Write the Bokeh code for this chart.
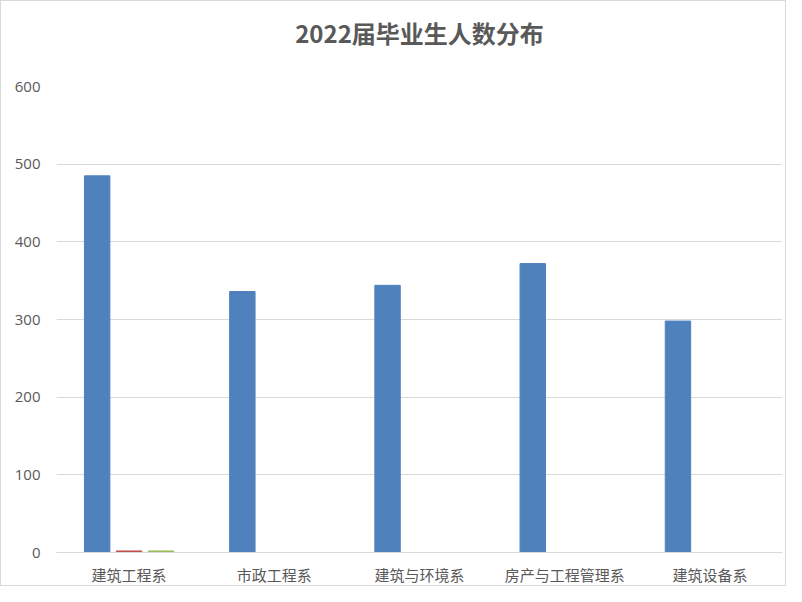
from bokeh.plotting import figure
from bokeh.models import ColumnDataSource, FactorRange, SingleIntervalTicker, Range1d, Title
from bokeh.transform import dodge
from bokeh.embed import file_html
from bokeh.resources import INLINE

categories = ["建筑工程系", "市政工程系", "建筑与环境系", "房产与工程管理系", "建筑设备系"]
series1 = [485, 336, 344, 372, 298]
series2 = [2, 0, 0, 0, 0]
series3 = [2, 0, 0, 0, 0]
y_ticks = [0, 100, 200, 300, 400, 500, 600]
title_text = "2022届毕业生人数分布"

src = ColumnDataSource(dict(cat=categories, s1=series1, s2=series2, s3=series3))

p = figure(width=786, height=586, x_range=FactorRange(factors=categories, range_padding=0),
           y_range=Range1d(0, 600), output_backend="svg", toolbar_location=None,
           min_border_left=55, min_border_right=5,
           min_border_bottom=28, min_border_top=5)

spacer = Title(text=" ", text_font_size="24px", standoff=8)
p.add_layout(spacer, "above")
main_title = Title(text=title_text, align="center", text_font="Noto Sans CJK SC",
                   text_font_size="24px", text_font_style="bold", text_color="#595959",
                   standoff=0)
p.add_layout(main_title, "above")
top_spacer = Title(text=" ", text_font_size="8px", standoff=0)
p.add_layout(top_spacer, "above")

w = 0.175
p.vbar(x=dodge("cat", -0.22, range=p.x_range), top="s1", width=w, source=src, color="#4f81bd")
p.vbar(x=dodge("cat", 0.0, range=p.x_range), top="s2", width=w, source=src, color="#c0504d")
p.vbar(x=dodge("cat", 0.22, range=p.x_range), top="s3", width=w, source=src, color="#9bbb59")

p.outline_line_color = None
p.xgrid.grid_line_color = None
p.ygrid.grid_line_color = "#d9d9d9"
p.ygrid.grid_line_width = 1
p.yaxis.ticker = SingleIntervalTicker(interval=100)
p.yaxis.axis_line_color = None
p.yaxis.major_tick_line_color = None
p.yaxis.minor_tick_line_color = None
p.yaxis.major_label_text_font = "Open Sans"
p.yaxis.major_label_text_font_size = "15px"
p.yaxis.major_label_text_color = "#595959"
p.yaxis.major_label_standoff = 10

p.xaxis.axis_line_color = "#d9d9d9"
p.xaxis.major_tick_line_color = None
p.xaxis.minor_tick_line_color = None
p.xaxis.major_label_text_font = "Noto Sans CJK SC"
p.xaxis.major_label_text_font_size = "15px"
p.xaxis.major_label_text_color = "#595959"
p.xaxis.major_label_standoff = 5

p.styles = {"border": "1px solid #d9d9d9"}

open("out.html", "w").write(file_html(p, INLINE))
